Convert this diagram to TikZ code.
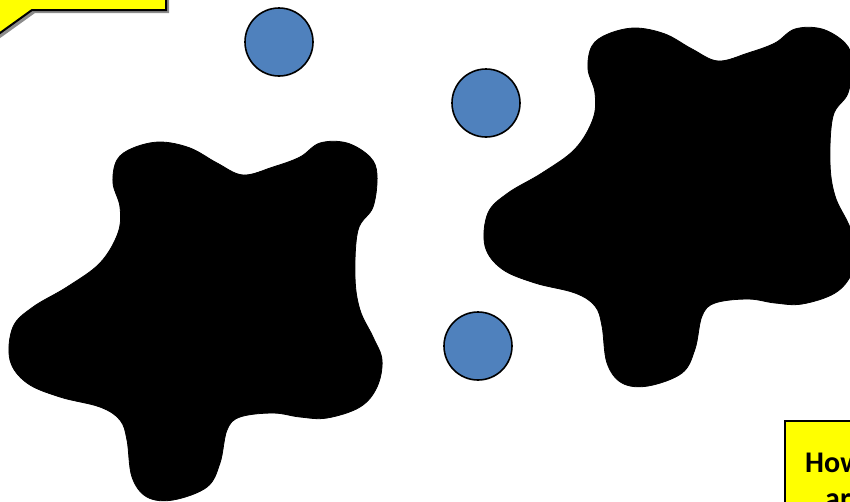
\documentclass[tikz,border=0pt]{standalone}
\usepackage{fontspec}
\setmainfont{Carlito}
\definecolor{cellblue}{HTML}{4F81BD}
\definecolor{noteyellow}{HTML}{FFFF00}
\tikzset{
  cell/.style={circle,draw=black,line width=1.6pt,fill=cellblue,minimum size=68pt,inner sep=0pt},
  note/.style={draw=black,line width=2pt,fill=noteyellow},
  shade/.style={fill=black!45},
  blobfill/.style={fill=black,draw=black,line width=0.8pt},
  pics/blob/.style={code={
    \path[blobfill] plot[smooth cycle,tension=0.6] coordinates {
      (117,160) (133,148) (160,142) (190,148) (217,163) (243,175) (273,167)
      (300,157) (320,143) (347,143) (370,157) (377,175) (373,207) (358,230)
      (355,277) (360,310) (373,337) (382,360) (377,387) (360,407) (327,418)
      (300,417) (273,413) (240,417) (227,430) (220,463) (207,487) (173,500)
      (147,497) (132,477) (127,440) (120,420) (100,407) (60,397) (27,383)
      (10,360) (13,327) (33,307) (67,287) (100,263) (118,233) (120,207)
      (113,183)};
  }}
}
\begin{document}
\begin{tikzpicture}[x=1pt,y=-1pt]
\useasboundingbox (0,0) rectangle (850,501);
\clip (0,0) rectangle (850,501);
% top-left callout with shadow
\fill[shade] (-10,-20) -- (169,-20) -- (169,13) -- (35,13) -- (3,36) -- (-10,45) -- cycle;
\path[note] (-10,-20) -- (166,-20) -- (166,10) -- (32,10) -- (0,33) -- (-10,40) -- cycle;
% blobs
\pic at (0,0) {blob};
\pic at (475,-114) {blob};
% cells
\node[cell] (c1) at (279,42) {};
\node[cell] (c2) at (486,103) {};
\node[cell] (c3) at (478,346) {};
% bottom-right note
\fill[shade] (788,424) rectangle (870,520);
\path[note] (785,421) rectangle (867,517);
\node[font=\bfseries\fontsize{30}{36}\selectfont,anchor=base west,inner sep=0pt] (t1) at (805,472) {How};
\node[font=\bfseries\fontsize{30}{36}\selectfont,anchor=base west,inner sep=0pt] (t2) at (825,508) {are};
\end{tikzpicture}
\end{document}
